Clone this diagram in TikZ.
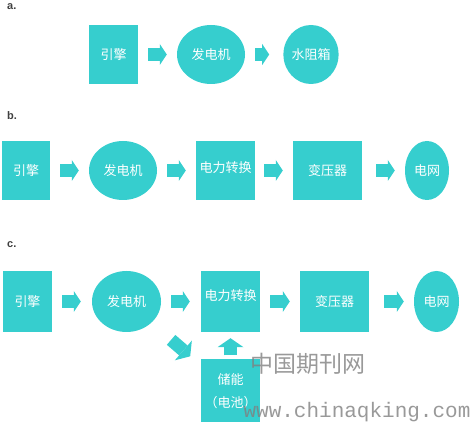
\documentclass[tikz,border=0pt]{standalone}
\usepackage{fontspec}
\newfontfamily\cjk{Noto Sans CJK SC}
\newfontfamily\labelfont{Liberation Sans}
\newfontfamily\markfont{Liberation Mono}
\usetikzlibrary{shapes.geometric,arrows.meta}
\definecolor{teal1}{RGB}{54,206,206}
\definecolor{markgray}{RGB}{128,128,128}
\tikzset{
  block/.style={rectangle, fill=teal1, inner sep=0pt, text=white,
    font=\cjk\fontsize{13}{15}\selectfont},
  round/.style={ellipse, fill=teal1, inner sep=0pt, text=white,
    font=\cjk\fontsize{13}{15}\selectfont},
  fat/.style={draw=teal1, line width=13pt,
    -{Triangle[length=7pt,width=21pt,line width=0pt,fill=teal1]}},
  fatup/.style={draw=teal1, line width=13pt,
    -{Triangle[length=9pt,width=26pt,line width=0pt,fill=teal1]}},
  rowlabel/.style={anchor=west, inner sep=0pt, text=black!75,
    font=\labelfont\bfseries\fontsize{11}{12}\selectfont}
}
\begin{document}
\begin{tikzpicture}[x=1pt,y=-1pt]
  \useasboundingbox (0,0) rectangle (472,422);

  % row a
  \node[rowlabel] (la) at (7,7) {a.};
  \node[block, minimum width=49pt, minimum height=59pt] (a1) at (113.5,54.5) {引擎};
  \node[round, minimum width=68pt, minimum height=59pt] (a2) at (211,54.5) {发电机};
  \node[round, minimum width=44pt, minimum height=59pt] (a3) at (311,54.5) {水阻箱};

  \draw[fat, shorten <=10pt, shorten >=10pt] (a1) -- (a2);
  \draw[fat, shorten <=10pt, shorten >=14pt] (a2) -- (a3);

  % row b
  \node[rowlabel] (lb) at (7,116) {b.};
  \node[block, minimum width=48pt, minimum height=59pt] (b1) at (26,170.5) {引擎};
  \node[round, minimum width=68pt, minimum height=59pt] (b2) at (123,170.5) {发电机};
  \node[block, minimum width=59pt, minimum height=59pt, text depth=6pt] (b3) at (225.5,170.5) {电力转换};
  \node[block, minimum width=69pt, minimum height=59pt] (b4) at (327.5,170.5) {变压器};
  \node[round, minimum width=44pt, minimum height=59pt] (b5) at (427,170.5) {电网};

  \draw[fat, shorten <=10pt, shorten >=10pt] (b1) -- (b2);
  \draw[fat, shorten <=10pt, shorten >=10pt] (b2) -- (b3);
  \draw[fat, shorten <=9pt, shorten >=10pt] (b3) -- (b4);
  \draw[fat, shorten <=14pt, shorten >=10pt] (b4) -- (b5);

  % row c
  \node[rowlabel] (lc) at (7,245) {c.};
  \node[block, minimum width=49pt, minimum height=61pt] (c1) at (27.5,301.5) {引擎};
  \node[round, minimum width=69pt, minimum height=61pt] (c2) at (126.5,301.5) {发电机};
  \node[block, minimum width=59pt, minimum height=61pt, text depth=12pt] (c3) at (230.5,301.5) {电力转换};
  \node[block, minimum width=69pt, minimum height=61pt] (c4) at (334.5,301.5) {变压器};
  \node[round, minimum width=45pt, minimum height=61pt] (c5) at (436.5,301.5) {电网};
  \node[block, minimum width=59pt, minimum height=63pt, align=center,
        font=\cjk\fontsize{13}{23}\selectfont] (c6) at (230.5,391) {储能\\（电池）};

  \draw[fat, shorten <=10pt, shorten >=11pt] (c1) -- (c2);
  \draw[fat, shorten <=10pt, shorten >=11pt] (c2) -- (c3);
  \draw[fat, shorten <=10pt, shorten >=10pt] (c3) -- (c4);
  \draw[fat, shorten <=15pt, shorten >=10pt] (c4) -- (c5);
  \draw[fatup, shorten <=4pt, shorten >=6pt] (c6) -- (c3);
  \draw[fatup, shorten <=26pt, shorten >=14pt] (c2) -- (c6);

  % watermark
  \node[text=markgray, opacity=0.8, font=\cjk\fontsize{23}{25}\selectfont] (wm1) at (308,364) {中国期刊网};
  \node[text=markgray, opacity=0.8, font=\markfont\fontsize{21}{23}\selectfont] (wm2) at (357,412) {www.chinaqking.com};
\end{tikzpicture}
\end{document}
